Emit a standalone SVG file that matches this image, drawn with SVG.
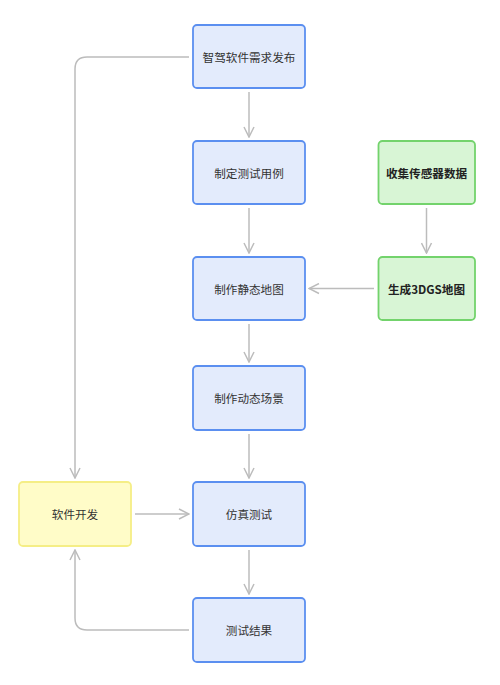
<svg xmlns="http://www.w3.org/2000/svg" width="500" height="685" viewBox="0 0 500 685">
<defs>
<marker id="arr" viewBox="0 0 12 12" refX="11" refY="6" markerWidth="12" markerHeight="12" markerUnits="userSpaceOnUse" orient="auto">
<path d="M1,1 L11,6 L1,11" fill="none" stroke="#bcbcbc" stroke-width="1.5"/>
</marker>
<style>
.blue rect{fill:#e3ebfc;stroke:#5b8ff0;stroke-width:1.8}
.green rect{fill:#d8f5d5;stroke:#73d36c;stroke-width:1.8}
.yellow rect{fill:#fffcc8;stroke:#f5ee86;stroke-width:1.8}
text{font-family:"Noto Sans CJK SC","Noto Sans",sans-serif;font-size:11.6px;fill:#333;text-anchor:middle;dominant-baseline:central}
.green text{font-weight:bold;fill:#222}
.conn path{fill:none;stroke:#bcbcbc;stroke-width:1.5;marker-end:url(#arr)}
</style>
</defs>
<rect width="500" height="685" fill="#ffffff"/>
<g class="conn" id="connectors">
<path d="M249,92 V137"/>
<path d="M249,208 V253"/>
<path d="M249,324 V362"/>
<path d="M249,434 V478"/>
<path d="M249,550 V594"/>
<path d="M426.5,208 V253"/>
<path d="M374,288.5 H309"/>
<path d="M135,514 H189"/>
<path d="M189,57 H87 Q75,57 75,69 V478"/>
<path d="M189,630 H87 Q75,630 75,618 V550"/>
</g>
<g id="n1" class="blue"><rect x="193" y="25" width="112" height="63" rx="4"/><text x="249" y="57">智驾软件需求发布</text></g>
<g id="n2" class="blue"><rect x="193" y="141" width="112" height="63" rx="4"/><text x="249" y="173">制定测试用例</text></g>
<g id="n3" class="blue"><rect x="193" y="257" width="112" height="63" rx="4"/><text x="249" y="289">制作静态地图</text></g>
<g id="n4" class="blue"><rect x="193" y="366" width="112" height="64" rx="4"/><text x="249" y="398">制作动态场景</text></g>
<g id="n5" class="blue"><rect x="193" y="482" width="112" height="64" rx="4"/><text x="249" y="514">仿真测试</text></g>
<g id="n6" class="blue"><rect x="193" y="598" width="112" height="64" rx="4"/><text x="249" y="630">测试结果</text></g>
<g id="g1" class="green"><rect x="378.5" y="141" width="96.5" height="63" rx="4"/><text x="426.5" y="172.5">收集传感器数据</text></g>
<g id="g2" class="green"><rect x="378.5" y="257" width="96.5" height="63" rx="4"/><text x="426.5" y="288.5">生成3DGS地图</text></g>
<g id="y1" class="yellow"><rect x="19" y="482" width="112" height="64" rx="4"/><text x="75" y="514">软件开发</text></g>
</svg>
